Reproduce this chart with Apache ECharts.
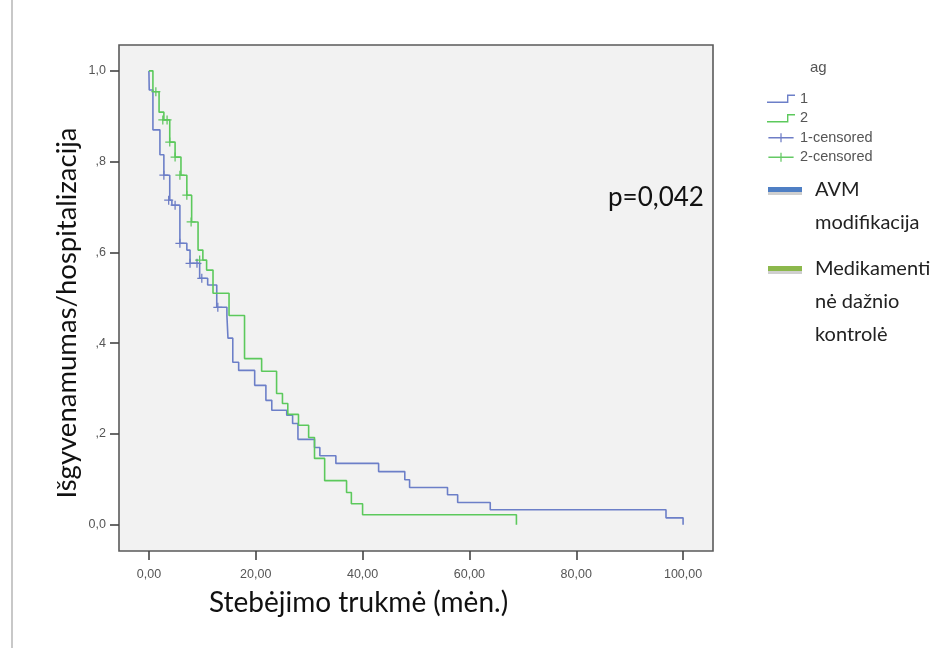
<!DOCTYPE html>
<html>
<head>
<meta charset="utf-8">
<script src="https://cdn.jsdelivr.net/npm/echarts@6/dist/echarts.min.js"></script>
<style>
  html, body { margin: 0; padding: 0; background: #fff; }
  #chart { width: 944px; height: 648px; }
</style>
</head>
<body>
<div id="chart"></div>
<script>
// group 1 (AVM modifikacija): event times and survival after each step
const blueTimes = [0, 0.06, 0.75, 2.06, 2.8, 3.9, 4.3, 5.8, 7.1, 7.7, 9.5, 11.0, 12.7, 14.6, 14.8, 15.7, 16.8, 19.8, 21.9, 23.0, 25.8, 26.9, 27.9, 31.0, 32.0, 35.0, 43.0, 47.9, 48.8, 55.9, 57.8, 63.9, 96.8, 100];
const blueSurv = [1, 0.958, 0.870, 0.815, 0.770, 0.715, 0.704, 0.620, 0.605, 0.576, 0.543, 0.528, 0.479, 0.461, 0.411, 0.358, 0.340, 0.307, 0.274, 0.252, 0.241, 0.223, 0.188, 0.170, 0.152, 0.135, 0.117, 0.099, 0.082, 0.066, 0.049, 0.033, 0.015, 0];
const blueCensT = [2.8, 3.7, 4.9, 5.8, 7.7, 9.0, 9.9, 12.9];
const blueCensS = [0.770, 0.715, 0.704, 0.620, 0.576, 0.576, 0.543, 0.479];

// group 2 (Medikamenti ne daznio kontrole)
const greenTimes = [0, 0.75, 1.9, 2.8, 3.9, 4.9, 6.0, 7.1, 8.0, 9.2, 10.1, 10.8, 12.0, 15.0, 17.9, 21.1, 23.9, 25.0, 26.0, 28.0, 29.9, 31.0, 32.9, 37.0, 37.9, 40.0, 68.8];
const greenSurv = [1, 0.954, 0.909, 0.892, 0.843, 0.810, 0.770, 0.726, 0.667, 0.605, 0.583, 0.561, 0.510, 0.461, 0.366, 0.338, 0.289, 0.267, 0.243, 0.219, 0.192, 0.146, 0.097, 0.071, 0.046, 0.022, 0];
const greenCensT = [1.3, 2.6, 3.4, 3.9, 4.9, 5.8, 7.1, 7.9, 9.5];
const greenCensS = [0.954, 0.892, 0.892, 0.843, 0.810, 0.770, 0.726, 0.667, 0.583];

const xTicks = [0, 20, 40, 60, 80, 100];
const yTicks = [0, 0.2, 0.4, 0.6, 0.8, 1.0];
const yTickLabels = ['0,0', ',2', ',4', ',6', ',8', '1,0'];

const BLUE = '#6c7fc8';
const GREEN = '#5cc95c';
const BLUE_MARK = '#4a5cb8';
const GREEN_MARK = '#3dbb3d';

const zip = (a, b) => a.map((v, i) => [v, b[i]]);
const plus = 'path://M-0.7,-5 H0.7 V5 H-0.7 Z M-5,-0.7 H5 V0.7 H-5 Z';
const stepIcon = 'path://M0,7 H20 V0 H28 V1.4 H21.4 V8.4 H0 Z';
const plusIcon = 'path://M0,4.3 H28 V5.7 H0 Z M13.3,0 H14.7 V10 H13.3 Z';

const chart = echarts.init(document.getElementById('chart'));

chart.setOption({
  animation: false,
  backgroundColor: '#ffffff',
  grid: {
    left: 119, top: 45, right: 231, bottom: 97,
    show: true,
    backgroundColor: '#f2f2f2',
    borderColor: '#5a5a5a',
    borderWidth: 1.6
  },
  xAxis: {
    type: 'value',
    min: -5.6,
    max: 105.6,
    axisLine: { show: false, onZero: false },
    splitLine: { show: false },
    axisTick: {
      show: true, inside: false, length: 9,
      customValues: xTicks,
      lineStyle: { color: '#444', width: 1.6 }
    },
    axisLabel: {
      customValues: xTicks,
      margin: 17,
      color: '#555',
      fontFamily: 'Liberation Sans',
      fontSize: 12.5,
      formatter: v => v.toFixed(2).replace('.', ',')
    }
  },
  yAxis: {
    type: 'value',
    min: -0.058,
    max: 1.057,
    axisLine: { show: false, onZero: false },
    splitLine: { show: false },
    axisTick: {
      show: true, inside: false, length: 9,
      customValues: yTicks,
      lineStyle: { color: '#444', width: 1.6 }
    },
    axisLabel: {
      customValues: yTicks,
      margin: 13,
      color: '#555',
      fontFamily: 'Liberation Sans',
      fontSize: 12.5,
      formatter: v => yTickLabels[yTicks.findIndex(t => Math.abs(t - v) < 1e-6)]
    }
  },
  legend: {
    orient: 'vertical',
    left: 762,
    top: 85,
    itemWidth: 28,
    itemHeight: 9,
    itemGap: 2,
    itemTextGap: 4,
    selectedMode: false,
    textStyle: { color: '#555', fontFamily: 'Liberation Sans', fontSize: 14.5, lineHeight: 17.5 },
    itemStyle: { borderWidth: 0 },
    data: [
      { name: '1', icon: stepIcon },
      { name: '2', icon: stepIcon },
      { name: '1-censored', icon: plusIcon },
      { name: '2-censored', icon: plusIcon }
    ]
  },
  graphic: [
    { type: 'rect', shape: { x: 11, y: 0, width: 2, height: 648 }, style: { fill: '#c8c8c8' } },
    { type: 'text', left: 810, top: 60, style: { text: 'ag', fill: '#555', font: '15px "Liberation Sans"' } },
    { type: 'text', left: 608, top: 185, style: { text: 'p=0,042', fill: '#111', font: '26px Lato' } },
    { type: 'text', left: 209, top: 589, style: { text: 'Stebėjimo trukmė (mėn.)', fill: '#111', font: '28px Lato' } },
    { type: 'text', x: 67, y: 313, rotation: Math.PI / 2,
      style: { text: 'Išgyvenamumas/hospitalizacija', fill: '#111', font: '27.5px Lato', align: 'center', verticalAlign: 'middle' } },
    { type: 'rect', shape: { x: 768, y: 187, width: 34, height: 5 }, style: { fill: '#4f7fc4' } },
    { type: 'rect', shape: { x: 768, y: 192, width: 34, height: 3 }, style: { fill: '#cfcfcf' } },
    { type: 'text', left: 815, top: 180, style: { text: 'AVM', fill: '#222', font: '20px Lato' } },
    { type: 'text', left: 815, top: 213, style: { text: 'modifikacija', fill: '#222', font: '20px Lato' } },
    { type: 'rect', shape: { x: 768, y: 266, width: 34, height: 5 }, style: { fill: '#8cb84c' } },
    { type: 'rect', shape: { x: 768, y: 271, width: 34, height: 3 }, style: { fill: '#cfcfcf' } },
    { type: 'text', left: 815, top: 259, style: { text: 'Medikamenti', fill: '#222', font: '20px Lato' } },
    { type: 'text', left: 815, top: 292, style: { text: 'nė dažnio', fill: '#222', font: '20px Lato' } },
    { type: 'text', left: 815, top: 325, style: { text: 'kontrolė', fill: '#222', font: '20px Lato' } }
  ],
  series: [
    {
      name: '1', type: 'line', step: 'end', symbol: 'none',
      color: BLUE, lineStyle: { width: 1.6, color: BLUE },
      data: zip(blueTimes, blueSurv)
    },
    {
      name: '2', type: 'line', step: 'end', symbol: 'none',
      color: GREEN, lineStyle: { width: 1.6, color: GREEN },
      data: zip(greenTimes, greenSurv)
    },
    {
      name: '1-censored', type: 'scatter', symbol: plus, symbolSize: 9,
      color: BLUE_MARK, itemStyle: { color: BLUE_MARK },
      data: zip(blueCensT, blueCensS)
    },
    {
      name: '2-censored', type: 'scatter', symbol: plus, symbolSize: 9,
      color: GREEN_MARK, itemStyle: { color: GREEN_MARK },
      data: zip(greenCensT, greenCensS)
    }
  ]
});
</script>
</body>
</html>
